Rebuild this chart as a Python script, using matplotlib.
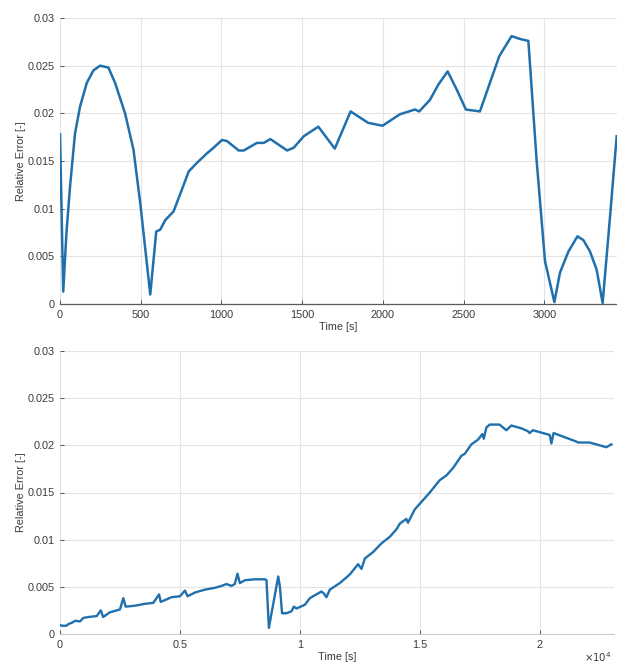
import matplotlib
matplotlib.use("Agg")
import matplotlib.pyplot as plt
from matplotlib.ticker import FuncFormatter

# ---- Top panel data (time in s, relative error) ----
top_time = [0, 20, 40, 62, 93, 124, 166, 207, 248, 300, 341, 403, 455, 497, 559,
            596, 621, 652, 703, 755, 797, 848, 910, 952, 1003, 1034, 1107, 1138,
            1220, 1262, 1303, 1355, 1407, 1448, 1510, 1600, 1702, 1800, 1909,
            1998, 2105, 2198, 2225, 2291, 2343, 2401, 2457, 2514, 2601, 2663,
            2721, 2797, 2849, 2901, 2952, 3004, 3062, 3097, 3149, 3205, 3242,
            3283, 3324, 3361, 3407, 3448]
top_err = [0.0178, 0.0013, 0.0075, 0.0123, 0.0179, 0.0207, 0.0232, 0.0245, 0.0250,
           0.0248, 0.0232, 0.0200, 0.0162, 0.0106, 0.0010, 0.0076, 0.0078,
           0.0088, 0.0097, 0.0120, 0.0139, 0.0148, 0.0158, 0.0164, 0.0172,
           0.0171, 0.0161, 0.0161, 0.0169, 0.0169, 0.0173, 0.0167, 0.0161,
           0.0164, 0.0176, 0.0186, 0.0163, 0.0202, 0.0190, 0.0187, 0.0199,
           0.0204, 0.0202, 0.0214, 0.0230, 0.0244, 0.0225, 0.0204, 0.0202,
           0.0232, 0.0260, 0.0281, 0.0278, 0.0276, 0.0151, 0.0045, 0.0002,
           0.0033, 0.0055, 0.0071, 0.0067, 0.0055, 0.0036, 0.0001, 0.0092, 0.0176]

# ---- Bottom panel data (time in s, relative error) ----
bot_time = [0, 70, 260, 350, 500, 630, 830, 970, 1180, 1530, 1700, 1800, 2080,
            2500, 2640, 2740, 3130, 3540, 3890, 4130, 4200, 4650, 5000, 5210,
            5320, 5630, 6040, 6460, 6740, 6940, 7150, 7290, 7400, 7500, 7710,
            8120, 8540, 8610, 8710, 8920, 9100, 9170, 9260, 9440, 9650, 9750,
            9860, 10210, 10420, 10690, 10900, 11000, 11110, 11250, 11670, 12080,
            12430, 12570, 12710, 13060, 13400, 13750, 14030, 14170, 14440, 14510,
            14790, 15140, 15420, 15830, 16110, 16390, 16740, 16880, 17150, 17430,
            17610, 17670, 17780, 17920, 18330, 18610, 18820, 19240, 19510, 19580,
            19720, 20000, 20420, 20490, 20580, 21110, 21530, 21600, 22080, 22500,
            22780, 22990]
bot_err = [0.00095, 0.00088, 0.00087, 0.00105, 0.0012, 0.0014, 0.00133, 0.0017,
           0.0018, 0.0019, 0.0025, 0.0018, 0.0023, 0.0026, 0.0038, 0.0029, 0.0030,
           0.0032, 0.0033, 0.0042, 0.0034, 0.0039, 0.0040, 0.0046, 0.0040, 0.0044,
           0.0047, 0.0049, 0.0051, 0.0053, 0.0051, 0.0053, 0.0064, 0.0054, 0.0057,
           0.0058, 0.0058, 0.0057, 0.00065, 0.0036, 0.0061, 0.0050, 0.0022, 0.0022,
           0.0024, 0.0029, 0.0027, 0.0031, 0.0038, 0.0042, 0.0045, 0.0043, 0.0039,
           0.0047, 0.0054, 0.0063, 0.0074, 0.0069, 0.0080, 0.0087, 0.0096, 0.0103,
           0.0111, 0.0117, 0.0122, 0.0118, 0.0132, 0.0142, 0.0150, 0.0163, 0.0168,
           0.0176, 0.0189, 0.0191, 0.0201, 0.0206, 0.0212, 0.0207, 0.0219, 0.0222,
           0.0222, 0.0216, 0.0221, 0.0218, 0.0215, 0.0213, 0.0216, 0.0214, 0.0211,
           0.0202, 0.0213, 0.0208, 0.0204, 0.0203, 0.0203, 0.0200, 0.0198, 0.0201]

y_ticks = [0, 0.005, 0.01, 0.015, 0.02, 0.025, 0.03]
top_xticks = [0, 500, 1000, 1500, 2000, 2500, 3000]
bot_xticks = [0, 5000, 10000, 15000, 20000]

plt.rcParams['font.family'] = ['Liberation Sans', 'DejaVu Sans']
LINE = '#1f70ac'
TXT = '#3a3a3a'
GRID = '#e4e4e4'
FS = 7.8

fig = plt.figure(figsize=(6.17, 6.66), dpi=100)
W, H = 617, 666

def px_axes(l, t, r, b):
    return fig.add_axes([l / W, (H - b) / H, (r - l) / W, (b - t) / H])

ax1 = px_axes(60, 18, 617, 304)
ax2 = px_axes(60, 351, 614, 634)

for ax in (ax1, ax2):
    ax.set_ylim(0, 0.03)
    ax.set_yticks(y_ticks)
    ax.yaxis.set_major_formatter(FuncFormatter(lambda v, p: '%g' % round(v, 4)))
    ax.grid(True, color=GRID, linewidth=0.8)
    ax.set_axisbelow(True)
    ax.tick_params(direction='in', length=3, width=0.6, colors=TXT,
                   labelsize=FS, pad=4)
    ax.spines['top'].set_visible(False)
    ax.spines['right'].set_visible(False)
    ax.spines['left'].set_visible(False)
    ax.set_ylabel('Relative Error [-]', fontsize=FS, color=TXT, labelpad=1)
    ax.set_xlabel('Time [s]', fontsize=FS, color=TXT, labelpad=2)

ax1.spines['bottom'].set_color('#5a5a5a')
ax1.spines['bottom'].set_linewidth(0.9)
ax2.spines['bottom'].set_color('#c8c8c8')
ax2.spines['bottom'].set_linewidth(0.7)

ax1.plot(top_time, top_err, color=LINE, linewidth=1.8, solid_joinstyle='round')
ax1.set_xlim(0, 3450)
ax1.set_xticks(top_xticks)

ax2.plot(bot_time, bot_err, color=LINE, linewidth=1.7, solid_joinstyle='round')
ax2.set_xlim(0, 23100)
ax2.set_xticks(bot_xticks)
ax2.xaxis.set_major_formatter(FuncFormatter(lambda v, p: '%g' % (v / 1e4)))
fig.text(612 / W, 1.5 / H, r'$\times10^4$', ha='right', va='bottom',
         fontsize=FS - 0.5, color=TXT)

fig.savefig('out.png', dpi=100)
